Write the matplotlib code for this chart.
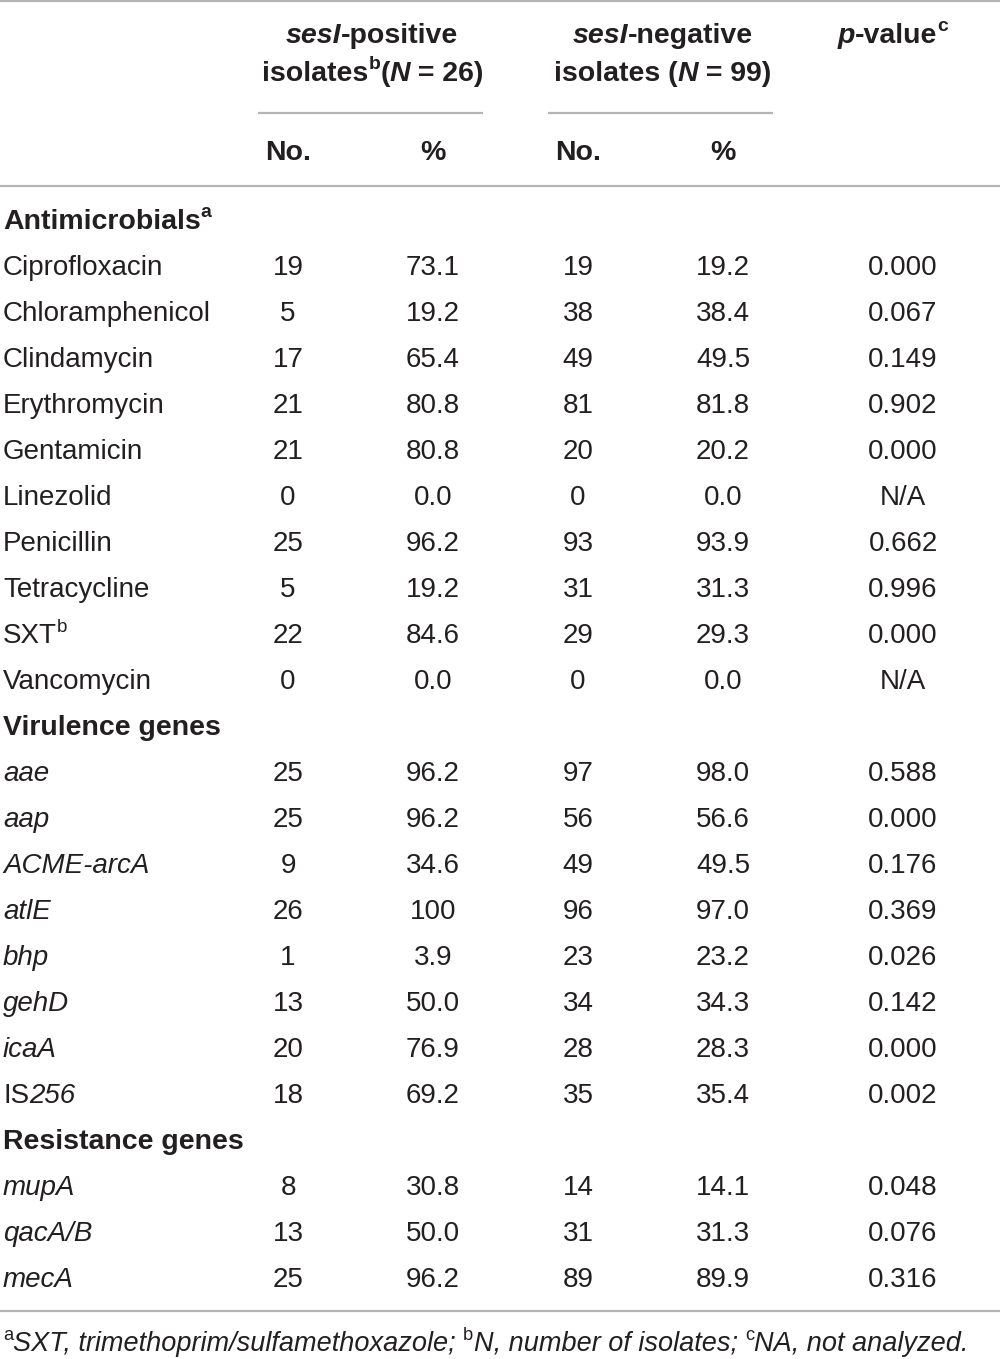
import matplotlib
matplotlib.use("Agg")
import matplotlib.pyplot as plt

# table data
anti_names = ["Ciprofloxacin", "Chloramphenicol", "Clindamycin", "Erythromycin",
              "Gentamicin", "Linezolid", "Penicillin", "Tetracycline", "SXT", "Vancomycin"]
anti_pos_no = ["19", "5", "17", "21", "21", "0", "25", "5", "22", "0"]
anti_pos_pct = ["73.1", "19.2", "65.4", "80.8", "80.8", "0.0", "96.2", "19.2", "84.6", "0.0"]
anti_neg_no = ["19", "38", "49", "81", "20", "0", "93", "31", "29", "0"]
anti_neg_pct = ["19.2", "38.4", "49.5", "81.8", "20.2", "0.0", "93.9", "31.3", "29.3", "0.0"]
anti_p = ["0.000", "0.067", "0.149", "0.902", "0.000", "N/A", "0.662", "0.996", "0.000", "N/A"]

vir_names = ["aae", "aap", "ACME-arcA", "atlE", "bhp", "gehD", "icaA", "IS256"]
vir_pos_no = ["25", "25", "9", "26", "1", "13", "20", "18"]
vir_pos_pct = ["96.2", "96.2", "34.6", "100", "3.9", "50.0", "76.9", "69.2"]
vir_neg_no = ["97", "56", "49", "96", "23", "34", "28", "35"]
vir_neg_pct = ["98.0", "56.6", "49.5", "97.0", "23.2", "34.3", "28.3", "35.4"]
vir_p = ["0.588", "0.000", "0.176", "0.369", "0.026", "0.142", "0.000", "0.002"]

res_names = ["mupA", "qacA/B", "mecA"]
res_pos_no = ["8", "13", "25"]
res_pos_pct = ["30.8", "50.0", "96.2"]
res_neg_no = ["14", "31", "89"]
res_neg_pct = ["14.1", "31.3", "89.9"]
res_p = ["0.048", "0.076", "0.316"]

TXT = "#231f20"
RULE = "#b5b5b5"
FONT = "Liberation Sans"
FS = 20
HFS = 20.5

fig = plt.figure(figsize=(10, 13.59), dpi=100)
ax = fig.add_axes([0, 0, 1, 1])
ax.set_xlim(0, 1000)
ax.set_ylim(1359, 0)
ax.axis("off")
renderer = fig.canvas.get_renderer()


def rich(x, y, parts, ha="left", size=FS):
    # parts: list of (text, weight, style, superscript)
    objs = []
    widths = []
    for s, w, st, sup in parts:
        fs = size * 0.68 if sup else size
        dy = -size * 0.45 if sup else 0
        t = ax.text(0, y + dy, s, fontsize=fs, fontweight=w, fontstyle=st,
                    family=FONT, color=TXT, va="center", ha="left")
        objs.append(t)
        widths.append(t.get_window_extent(renderer).width)
    total = sum(widths)
    if ha == "center":
        x0 = x - total / 2
    elif ha == "right":
        x0 = x - total
    else:
        x0 = x
    for t, wd in zip(objs, widths):
        t.set_x(x0)
        x0 += wd


def cell(x, y, s, ha="center"):
    ax.text(x, y, s, fontsize=FS, family=FONT, color=TXT, va="center", ha=ha)


# header
B = "bold"
rich(372, 36, [("sesI", B, "italic", False), ("-positive", B, "normal", False)], "center", HFS)
rich(373, 74, [("isolates", B, "normal", False), ("b", B, "normal", True),
               ("(", B, "normal", False), ("N", B, "italic", False), (" = 26)", B, "normal", False)],
     "center", HFS)
rich(663, 36, [("sesI", B, "italic", False), ("-negative", B, "normal", False)], "center", HFS)
rich(663, 74, [("isolates (", B, "normal", False), ("N", B, "italic", False),
               (" = 99)", B, "normal", False)], "center", HFS)
rich(893, 36, [("p", B, "italic", False), ("-value", B, "normal", False), ("c", B, "normal", True)],
     "center", HFS)

col_x = [288, 433, 578, 723, 903]
for cx, lab in zip(col_x[:4], ["No.", "%", "No.", "%"]):
    ax.text(cx, 153, lab, fontsize=HFS, fontweight="bold", family=FONT, color=TXT,
            va="center", ha="center")

# rules
ax.plot([0, 1000], [1, 1], color=RULE, lw=1.6, solid_capstyle="butt")
ax.plot([258, 483], [113, 113], color=RULE, lw=1.6, solid_capstyle="butt")
ax.plot([548, 773], [113, 113], color=RULE, lw=1.6, solid_capstyle="butt")
ax.plot([0, 1000], [186, 186], color=RULE, lw=1.6, solid_capstyle="butt")
ax.plot([0, 1000], [1311, 1311], color=RULE, lw=1.6, solid_capstyle="butt")

row_h = 46
y = 222


def section(title, sup, y):
    parts = [(title, B, "normal", False)]
    if sup:
        parts.append((sup, B, "normal", True))
    rich(3, y, parts, size=HFS)


def rows(labels, cols, y):
    for i, lab in enumerate(labels):
        yy = y + (i + 1) * row_h
        rich(3, yy, lab)
        for cx, col in zip(col_x, cols):
            cell(cx, yy, col[i])
    return y + (len(labels) + 1) * row_h


N = "normal"
I = "italic"
section("Antimicrobials", "a", y)
anti_labels = [[(n, N, N, False)] for n in anti_names]
anti_labels[8] = [("SXT", N, N, False), ("b", N, N, True)]
y = rows(anti_labels, [anti_pos_no, anti_pos_pct, anti_neg_no, anti_neg_pct, anti_p], y)

section("Virulence genes", None, y)
vir_labels = [[(n, N, I, False)] for n in vir_names]
vir_labels[7] = [("IS", N, N, False), ("256", N, I, False)]
y = rows(vir_labels, [vir_pos_no, vir_pos_pct, vir_neg_no, vir_neg_pct, vir_p], y)

section("Resistance genes", None, y)
res_labels = [[(n, N, I, False)] for n in res_names]
y = rows(res_labels, [res_pos_no, res_pos_pct, res_neg_no, res_neg_pct, res_p], y)

# footnote
FN = 19.5
rich(3, 1344, [("a", N, N, True), ("SXT, trimethoprim/sulfamethoxazole; ", N, I, False),
               ("b", N, N, True), ("N, number of isolates; ", N, I, False),
               ("c", N, N, True), ("NA, not analyzed.", N, I, False)], size=FN)

fig.savefig("out.png", dpi=100)
